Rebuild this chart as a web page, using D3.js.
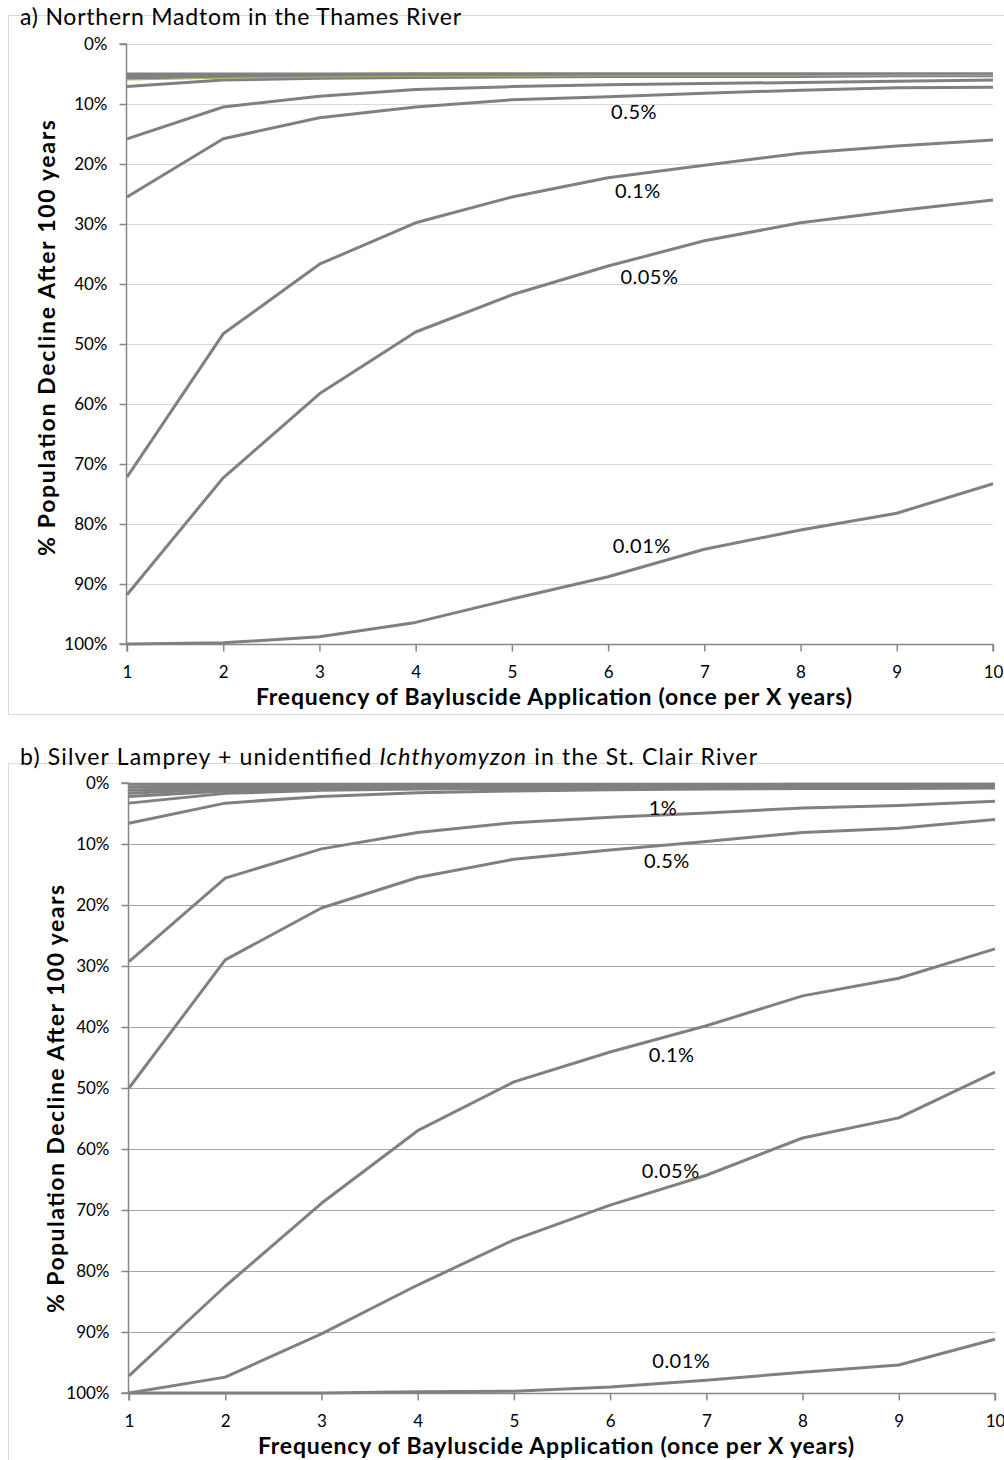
<!DOCTYPE html>
<html>
<head>
<meta charset="utf-8">
<script src="https://cdn.jsdelivr.net/npm/d3@7"></script>
<style>
  html, body { margin: 0; padding: 0; background: #fff; }
  svg { display: block; font-family: Lato, "Open Sans", sans-serif; }
</style>
</head>
<body>
<svg id="chart" width="1004" height="1460"></svg>
<script>
// ---------- data ----------
const years = [1, 2, 3, 4, 5, 6, 7, 8, 9, 10];
const pctTicks = [0, 10, 20, 30, 40, 50, 60, 70, 80, 90, 100];

// a) Northern Madtom in the Thames River (% decline after 100 years)
const madtomBand1 = [5.0, 5.0, 5.0, 5.0, 5.0, 5.0, 5.0, 5.0, 5.0, 5.0];
const madtomBand2 = [5.3, 5.1, 5.1, 5.0, 5.0, 5.0, 5.0, 5.0, 5.0, 5.0];
const madtomBand3 = [5.7, 5.4, 5.3, 5.2, 5.2, 5.1, 5.1, 5.1, 5.1, 5.1];
const madtomGreen = [6.0, 5.7, 5.5, 5.4, 5.4, 5.3, 5.3, 5.3, 5.2, 5.2];
const madtomBand4 = [7.1, 6.0, 5.7, 5.6, 5.5, 5.4, 5.4, 5.4, 5.3, 5.3];
const madtom1pct   = [15.8, 10.5, 8.7, 7.6, 7.1, 6.8, 6.6, 6.4, 6.2, 6.0];
const madtom05pct  = [25.5, 15.8, 12.3, 10.5, 9.3, 8.8, 8.2, 7.7, 7.3, 7.2];
const madtom01pct  = [72.2, 48.3, 36.7, 29.8, 25.5, 22.3, 20.2, 18.2, 17.0, 16.0];
const madtom005pct = [91.8, 72.3, 58.3, 48.0, 41.8, 37.0, 32.8, 29.8, 27.8, 26.0];
const madtom001pct = [100, 99.8, 98.8, 96.4, 92.5, 88.8, 84.2, 81.0, 78.2, 73.3];
const madtomLabels = ["0.5%", "0.1%", "0.05%", "0.01%"];
const madtomLabelX = [6.27, 6.31, 6.43, 6.35];
const madtomLabelY = [11.2, 24.3, 38.7, 83.5];

// b) Silver Lamprey + unidentified Ichthyomyzon in the St. Clair River
const lampreyBand1 = [0.2, 0.2, 0.2, 0.2, 0.2, 0.2, 0.2, 0.2, 0.2, 0.2];
const lampreyBand2 = [0.7, 0.4, 0.3, 0.3, 0.3, 0.3, 0.3, 0.2, 0.2, 0.2];
const lampreyBand3 = [1.2, 0.7, 0.5, 0.4, 0.4, 0.4, 0.3, 0.3, 0.3, 0.3];
const lampreyBand4 = [1.7, 1.0, 0.7, 0.6, 0.5, 0.5, 0.5, 0.4, 0.4, 0.4];
const lampreyBand5 = [2.2, 1.3, 0.9, 0.8, 0.7, 0.6, 0.6, 0.6, 0.5, 0.5];
const lampreyBand6 = [3.3, 1.7, 1.2, 1.0, 0.9, 0.8, 0.8, 0.7, 0.7, 0.7];
const lampreyBand7 = [6.6, 3.3, 2.2, 1.6, 1.3, 1.1, 1.0, 0.9, 0.9, 0.8];
const lamprey1pct   = [29.3, 15.6, 10.8, 8.1, 6.5, 5.6, 4.9, 4.1, 3.7, 3.0];
const lamprey05pct  = [50.0, 29.0, 20.5, 15.5, 12.5, 11.0, 9.6, 8.1, 7.4, 6.0];
const lamprey01pct  = [97.2, 82.5, 68.9, 57.0, 49.0, 44.1, 39.8, 34.9, 32.0, 27.2];
const lamprey005pct = [100, 97.4, 90.3, 82.3, 74.9, 69.2, 64.3, 58.2, 54.9, 47.4];
const lamprey001pct = [100, 100, 100, 99.8, 99.7, 99.0, 97.9, 96.6, 95.4, 91.2];
const lampreyLabels = ["1%", "0.5%", "0.1%", "0.05%", "0.01%"];
const lampreyLabelX = [6.55, 6.59, 6.64, 6.63, 6.74];
const lampreyLabelY = [3.9, 12.6, 44.4, 63.4, 94.6];

const xTitle = "Frequency of Bayluscide Application (once per X years)";
const yTitle = "% Population Decline After 100 years";

// ---------- drawing ----------
const svg = d3.select("#chart");
const LINE = "#808080", AXIS = "#868686";

function panel(cfg) {
  const g = svg.append("g");
  // outer frame
  g.append("rect")
    .attr("x", 8.5).attr("y", cfg.frameTop + 0.5)
    .attr("width", 1010).attr("height", cfg.frameH)
    .attr("fill", "none").attr("stroke", "#d9d9d9").attr("stroke-width", 1);

  const x = d3.scaleLinear().domain([1, 10]).range([cfg.x0, cfg.x1]);
  const y = d3.scaleLinear().domain([0, 100]).range([cfg.y0, cfg.y1]);

  // gridlines
  g.append("g").selectAll("line").data(pctTicks.slice(0, -1)).join("line")
    .attr("x1", cfg.x0).attr("x2", cfg.x1)
    .attr("y1", d => Math.round(y(d)) + 0.5).attr("y2", d => Math.round(y(d)) + 0.5)
    .attr("stroke", cfg.gridColor).attr("stroke-width", 1);

  // y axis
  const ya = g.append("g").attr("transform", `translate(${cfg.x0 - 0.5},0)`)
    .call(d3.axisLeft(y).tickValues(pctTicks).tickFormat(d => d + "%").tickSize(7).tickPadding(12));
  // x axis
  const xa = g.append("g").attr("transform", `translate(0,${cfg.y1 + 0.5})`)
    .call(d3.axisBottom(x).tickValues(years).tickFormat(d3.format("d")).tickSize(7).tickPadding(14));
  [ya, xa].forEach(a => {
    a.selectAll("path").attr("stroke", AXIS).attr("stroke-width", 1.5);
    a.selectAll("line").attr("stroke", AXIS).attr("stroke-width", 1.5);
    a.selectAll("text").attr("fill", "#000").attr("font-size", 17)
      .attr("font-family", "Lato, 'Open Sans', sans-serif");
  });
  ya.select(".domain").attr("d", `M-7,${cfg.y0}H0V${cfg.y1}H-7`);
  xa.select(".domain").attr("d", `M${cfg.x0},7V0H${cfg.x1}V7`);

  // series
  const line = d3.line().x((d, i) => x(years[i])).y(d => y(d));
  g.append("g").selectAll("path").data(cfg.series).join("path")
    .attr("d", s => line(s.values))
    .attr("fill", "none")
    .attr("stroke", s => s.color || LINE)
    .attr("stroke-width", s => s.width || 3)
    .attr("stroke-linejoin", "round");

  // series labels
  g.append("g").selectAll("text").data(cfg.labels).join("text")
    .attr("x", (d, i) => x(cfg.labelX[i]))
    .attr("y", (d, i) => y(cfg.labelY[i]))
    .attr("text-anchor", "middle").attr("dominant-baseline", "central")
    .attr("font-size", 20).attr("letter-spacing", 0.5).attr("fill", "#000")
    .text(d => d);

  // axis titles
  g.append("text")
    .attr("x", (cfg.x0 + cfg.x1) / 2 - 6).attr("y", cfg.y1 + 52)
    .attr("text-anchor", "middle").attr("dominant-baseline", "central")
    .attr("font-size", 23).attr("font-weight", "bold")
    .attr("textLength", 596).attr("lengthAdjust", "spacing").text(xTitle);
  g.append("text")
    .attr("transform", `translate(${cfg.yTitleX},${cfg.yTitleY}) rotate(-90)`)
    .attr("text-anchor", "middle").attr("dominant-baseline", "central")
    .attr("font-size", 23).attr("font-weight", "bold")
    .attr("textLength", cfg.yTitleLen).attr("lengthAdjust", "spacing").text(yTitle);

  // panel title
  const t = g.append("text").attr("x", 20).attr("y", cfg.titleY)
    .attr("font-size", 23).attr("fill", "#000")
    .attr("textLength", cfg.titleLen).attr("lengthAdjust", "spacing");
  cfg.title.forEach(p => t.append("tspan").attr("font-style", p.italic ? "italic" : "normal").text(p.text));
}

panel({
  frameTop: 15, frameH: 699,
  x0: 127, x1: 993, y0: 44, y1: 644,
  gridColor: "#d9d9d9",
  yTitleX: 46, yTitleY: 338, yTitleLen: 436,
  titleY: 25, titleLen: 441,
  title: [{ text: "a) Northern Madtom in the Thames River" }],
  series: [
    { values: madtomBand1 }, { values: madtomBand2 }, { values: madtomBand3 },
    { values: madtomBand4 },
    { values: madtomGreen, color: "#9bbb59", width: 1 },
    { values: madtom1pct }, { values: madtom05pct }, { values: madtom01pct },
    { values: madtom005pct }, { values: madtom001pct }
  ],
  labels: madtomLabels, labelX: madtomLabelX, labelY: madtomLabelY
});

panel({
  frameTop: 763, frameH: 800,
  x0: 129, x1: 995, y0: 783, y1: 1393,
  gridColor: "#a6a6a6",
  yTitleX: 55, yTitleY: 1099, yTitleLen: 428,
  titleY: 765, titleLen: 737,
  title: [
    { text: "b) Silver Lamprey + unidentified " },
    { text: "Ichthyomyzon", italic: true },
    { text: " in the St. Clair River" }
  ],
  series: [
    { values: lampreyBand1 }, { values: lampreyBand2 }, { values: lampreyBand3 },
    { values: lampreyBand4 }, { values: lampreyBand5 }, { values: lampreyBand6 },
    { values: lampreyBand7 },
    { values: lamprey1pct }, { values: lamprey05pct }, { values: lamprey01pct },
    { values: lamprey005pct }, { values: lamprey001pct }
  ],
  labels: lampreyLabels, labelX: lampreyLabelX, labelY: lampreyLabelY
});
</script>
</body>
</html>
